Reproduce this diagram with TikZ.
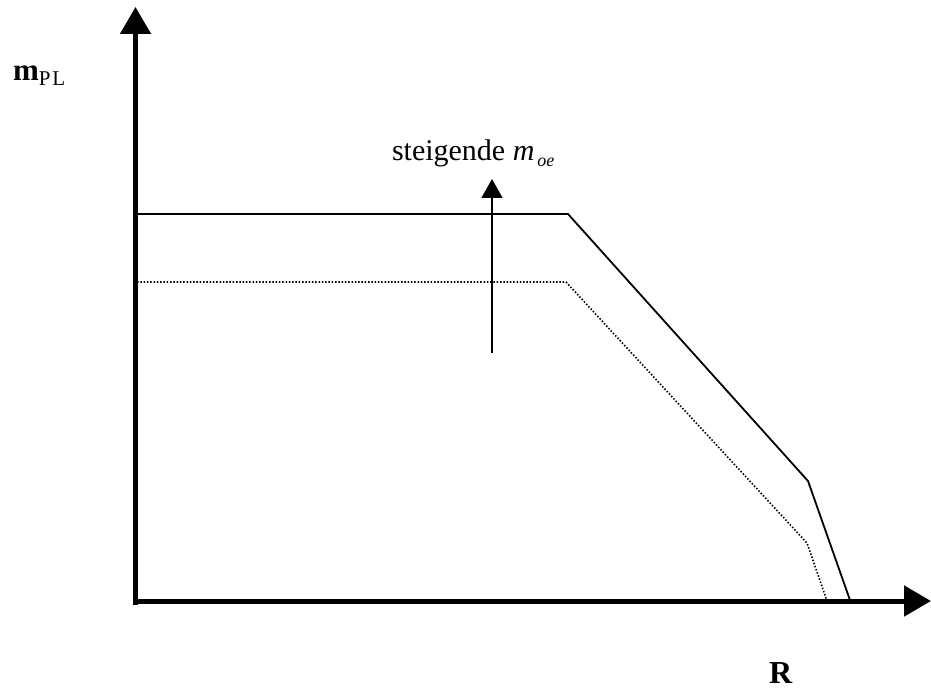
\documentclass[tikz,border=0pt]{standalone}
\usepackage{fontspec}
\setmainfont{Liberation Serif}
\usetikzlibrary{arrows.meta}

\tikzset{
  axis/.style={line width=5pt, -{Triangle[length=27pt,width=30pt]}},
  curvehi/.style={line width=1.8pt, line join=miter},
  curvelo/.style={line width=1.6pt, dash pattern=on 1.5pt off 1.8pt},
  rise/.style={line width=1.6pt, -{Triangle[length=19pt,width=21pt]}},
}

\begin{document}
\begin{tikzpicture}[x=1pt, y=-1pt, every node/.style={inner sep=0pt, outer sep=0pt}]
			\useasboundingbox (0,0) rectangle (931,692);
			% axes
			\coordinate (ybot) at (135.5,605);
			\coordinate (ytip) at (135.5,7);
			\coordinate (xlft) at (133,601);
			\coordinate (xtip) at (931,601);
			\draw[axis] (ybot) -- (ytip);
			\draw[axis] (xlft) -- (xtip);
			\node[anchor=base west] (mpl) at (13,81) {{\fontsize{31}{36}\selectfont\textbf{m}}\raisebox{-5pt}{\fontsize{21}{24}\selectfont P\kern2pt L}};
			\node[anchor=base west, font=\fontsize{32}{38}\selectfont\bfseries] (r) at (769,683) {R};
			% upper curve
			\coordinate (h1) at (137,214);
			\coordinate (h2) at (568,214);
			\coordinate (h3) at (808,481);
			\coordinate (h4) at (851,603);
			\draw[curvehi] (h1) -- (h2) -- (h3) -- (h4);
			% lower curve
			\coordinate (l1) at (137,282);
			\coordinate (l2) at (566,282);
			\coordinate (l3) at (807,543);
			\coordinate (l4) at (827,601);
			\draw[curvelo] (l1) -- (l2) -- (l3) -- (l4);
			% rising m_oe
			\node[anchor=base west, font=\fontsize{30}{36}\selectfont] (lbl) at (392,161) {steigende \textit{m}\kern3pt\raisebox{-6pt}{\fontsize{18}{20}\selectfont\textit{oe}}};
			\coordinate (a0) at (492,353);
			\coordinate (a1) at (492,179);
			\draw[rise] (a0) -- (a1);
		\end{tikzpicture}
\end{document}
